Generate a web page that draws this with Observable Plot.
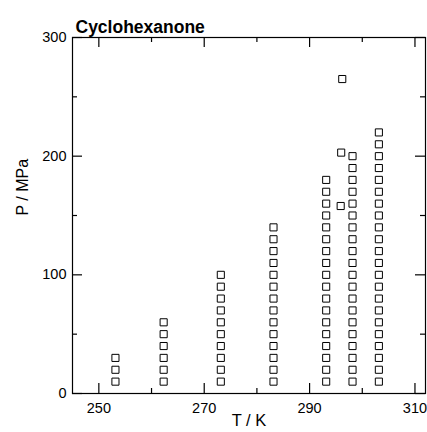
<!DOCTYPE html>
<html><head><meta charset="utf-8">
<script src="https://cdn.jsdelivr.net/npm/d3@7"></script>
<script src="https://cdn.jsdelivr.net/npm/@observablehq/plot@0.6"></script>
<style>body{margin:0;background:#fff} #chart svg{display:block}</style>
</head><body><div id="chart"></div>
<script>
const title = "Cyclohexanone";
const xLabel = "T / K";
const yLabel = "P / MPa";

// isotherm temperatures (K) and measured pressures (MPa)
const temps = [253.15, 262.3, 273.15, 283.15, 293.15, 298.15, 303.15];
const p253 = [10, 20, 30];
const p262 = [10, 20, 30, 40, 50, 60];
const p273 = [10, 20, 30, 40, 50, 60, 70, 80, 90, 100];
const p283 = [10, 20, 30, 40, 50, 60, 70, 80, 90, 100, 110, 120, 130, 140];
const p293 = [10, 20, 30, 40, 50, 60, 70, 80, 90, 100, 110, 120, 130, 140, 150, 160, 170, 180];
const p298 = [10, 20, 30, 40, 50, 60, 70, 80, 90, 100, 110, 120, 130, 140, 150, 160, 170, 180, 190, 200];
const p303 = [10, 20, 30, 40, 50, 60, 70, 80, 90, 100, 110, 120, 130, 140, 150, 160, 170, 180, 190, 200, 210, 220];
const pressureSets = [p253, p262, p273, p283, p293, p298, p303];

// isolated points
const extraT = [296.2, 296.0, 295.9];
const extraP = [265, 203, 158];

const xMajor = [250, 270, 290, 310];
const xMinor = [260, 280, 300];
const yMajor = [0, 100, 200, 300];
const yMinor = [50, 150, 250];

const data = [];
temps.forEach((t, i) => pressureSets[i].forEach(p => data.push({T: t, P: p})));
extraT.forEach((t, i) => data.push({T: t, P: extraP[i]}));

const font = "'Liberation Sans', Arial, Helvetica, sans-serif";

const W = 427, H = 432, ML = 72, MR = 2, MT = 37, MB = 39;
const frameW = W - ML - MR, frameH = H - MT - MB;
const majorLen = 10, minorLen = 5;
const tickStyle = {stroke: "black", strokeWidth: 1.2};

const chart = Plot.plot({
  width: W,
  height: H,
  marginLeft: ML,
  marginRight: MR,
  marginTop: MT,
  marginBottom: MB,
  style: {fontFamily: font, fontSize: "14px", color: "black", background: "white"},
  x: {domain: [245, 312]},
  y: {domain: [0, 300]},
  marks: [
    Plot.frame({stroke: "black", strokeWidth: 1.2}),
    // tick labels
    Plot.axisX(xMajor, {anchor: "bottom", tickSize: 0, tickPadding: 9, label: null, fontSize: 14.5}),
    Plot.axisY(yMajor, {anchor: "left", tickSize: 0, tickPadding: 6, label: null, fontSize: 14.5}),
    // inward ticks: bottom & top
    Plot.tickX(xMajor, {x: d => d, insetTop: frameH - majorLen, ...tickStyle}),
    Plot.tickX(xMinor, {x: d => d, insetTop: frameH - minorLen, ...tickStyle}),
    Plot.tickX(xMajor, {x: d => d, insetBottom: frameH - majorLen, ...tickStyle}),
    Plot.tickX(xMinor, {x: d => d, insetBottom: frameH - minorLen, ...tickStyle}),
    // inward ticks: left & right
    Plot.tickY(yMajor, {y: d => d, insetRight: frameW - majorLen, ...tickStyle}),
    Plot.tickY(yMinor, {y: d => d, insetRight: frameW - minorLen, ...tickStyle}),
    Plot.tickY(yMajor, {y: d => d, insetLeft: frameW - majorLen, ...tickStyle}),
    Plot.tickY(yMinor, {y: d => d, insetLeft: frameW - minorLen, ...tickStyle}),
    // labels
    Plot.text([xLabel], {frameAnchor: "bottom", dy: 32, fontSize: 16.5}),
    Plot.text([yLabel], {frameAnchor: "left", dx: -50, rotate: -90, fontSize: 16}),
    Plot.text([title], {frameAnchor: "top-left", textAnchor: "start", dx: 3, dy: -17, fontSize: 17.5, fontWeight: "bold"}),
    // data
    Plot.dot(data, {x: "T", y: "P", symbol: "square", r: 4, stroke: "black", strokeWidth: 1, fill: "white"})
  ]
});
document.getElementById("chart").appendChild(chart);
</script>
</body></html>
